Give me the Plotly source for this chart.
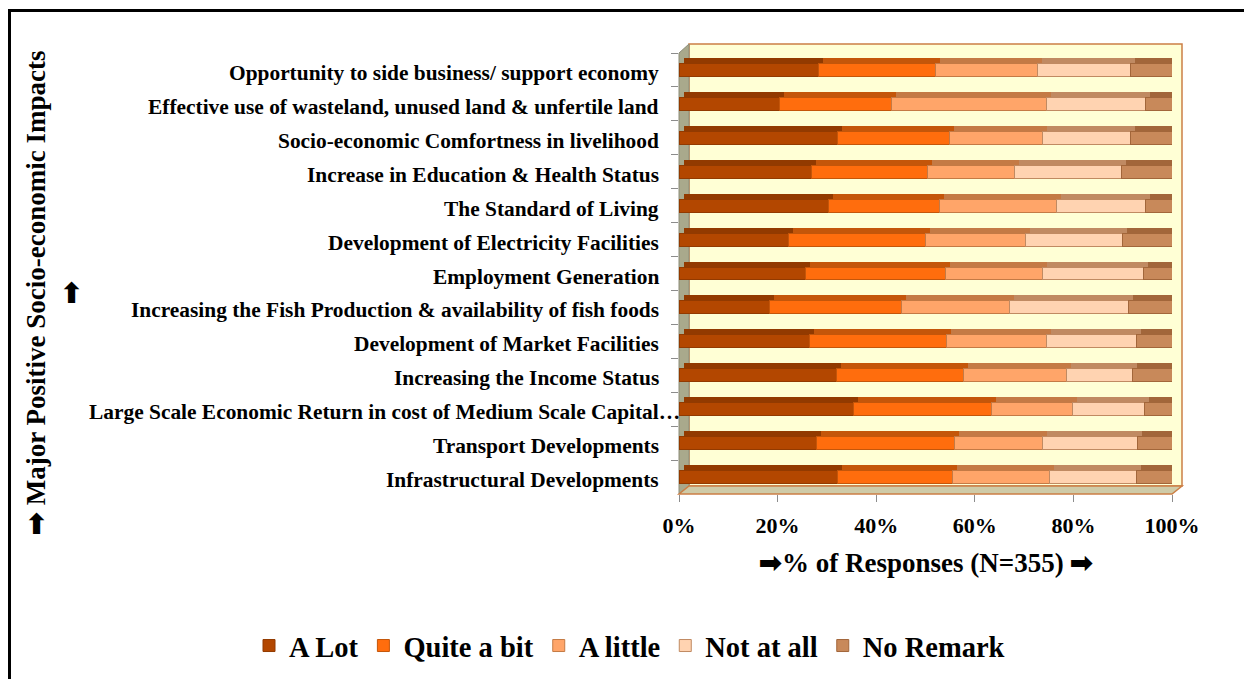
import plotly.graph_objects as go

# ---------------- data (top row first, as in the picture) ----------------
categories = [
    "Opportunity to side business/ support economy",
    "Effective use of wasteland, unused land & unfertile land",
    "Socio-economic Comfortness in livelihood",
    "Increase in Education & Health Status",
    "The Standard of Living",
    "Development of Electricity Facilities",
    "Employment Generation",
    "Increasing the Fish Production & availability of fish foods",
    "Development of Market Facilities",
    "Increasing the Income Status",
    "Large Scale Economic Return in cost of Medium Scale Capital\u2026",
    "Transport Developments",
    "Infrastructural Developments",
]
a_lot       = [28.3, 20.3, 32.2, 26.8, 30.4, 22.3, 25.6, 18.3, 26.4, 32.0, 35.4, 27.9, 32.2]
quite_a_bit = [23.8, 22.8, 22.6, 23.6, 22.4, 27.7, 28.5, 26.9, 27.9, 25.7, 28.0, 27.9, 23.2]
a_little    = [20.6, 31.5, 19.0, 17.6, 23.8, 20.2, 19.7, 21.8, 20.3, 20.9, 16.4, 18.0, 19.7]
not_at_all  = [18.8, 20.1, 17.7, 21.8, 18.1, 19.7, 20.4, 24.1, 18.1, 13.4, 14.6, 19.2, 17.7]
no_remark   = [8.5, 5.3, 8.5, 10.2, 5.3, 10.1, 5.8, 8.9, 7.3, 8.0, 5.6, 7.0, 7.2]
series_names = ["A Lot", "Quite a bit", "A little", "Not at all", "No Remark"]
x_tick_values = [0, 20, 40, 60, 80, 100]
x_tick_text = ["0%", "20%", "40%", "60%", "80%", "100%"]

# ---------------- styles ----------------
front_colors = ["#B34700", "#FF6D0D", "#FFA569", "#FFD3B1", "#C8895A"]
top_colors   = ["#923A00", "#C4560A", "#C47A45", "#C08A62", "#A2663A"]
FONT = "Liberation Serif"
ARROW = "\u27A1"

W, H = 1244, 679
L, R, T, B = 679, 72, 53, 185
PW = W - L - R
PH = H - T - B
n = len(categories)
ROW = PH / n
DEPTH = 5          # pixel depth of the 3-D bars
BAR_W = 0.38


def px(x):
    return (x - L) / PW


def py(y):
    return 1 - (y - T) / PH


series = [a_lot, quite_a_bit, a_little, not_at_all, no_remark]

fig = go.Figure()
# back (top / side) faces of the 3-D bars, drawn on axes shifted by DEPTH px
for vals, name, ct in zip(series, series_names, top_colors):
    fig.add_trace(go.Bar(
        y=categories, x=vals, orientation="h", name=name, width=BAR_W,
        marker=dict(color=ct, line=dict(color=ct, width=1)),
        xaxis="x", yaxis="y", showlegend=False, hoverinfo="skip"))
# front faces
for vals, name, cf, ct in zip(series, series_names, front_colors, top_colors):
    fig.add_trace(go.Bar(
        y=categories, x=vals, orientation="h", name=name, width=BAR_W,
        marker=dict(color=cf, line=dict(color=ct, width=1)),
        xaxis="x2", yaxis="y2"))

sx = DEPTH / PW * 100
sy = DEPTH / ROW

axis_common = dict(showgrid=False, zeroline=False, automargin=False)
fig.update_layout(
    width=W, height=H,
    margin=dict(l=L, r=R, t=T, b=B, pad=0, autoexpand=False),
    paper_bgcolor="white", plot_bgcolor="rgba(0,0,0,0)",
    barmode="stack",
    font=dict(family=FONT, color="black", weight="bold"),
    xaxis=dict(range=[-sx, 100 - sx], visible=False, **axis_common),
    yaxis=dict(type="category", categoryorder="array", categoryarray=categories,
               range=[n - 0.5 + sy, -0.5 + sy], visible=False, **axis_common),
    xaxis2=dict(overlaying="x", anchor="y2", side="bottom", range=[0, 100],
                tickmode="array", tickvals=x_tick_values, ticktext=x_tick_text,
                showline=False, ticks="outside", ticklen=7, tickcolor="#8C8C8C",
                tickfont=dict(size=22, family=FONT, weight="bold"),
                ticklabelstandoff=5, **axis_common),
    yaxis2=dict(overlaying="y", anchor="x2", side="left", type="category",
                categoryorder="array", categoryarray=categories,
                range=[n - 0.5, -0.5], showline=False, showticklabels=False,
                ticks="outside", tickson="boundaries", ticklen=7, tickcolor="#8C8C8C",
                **axis_common),
    legend=dict(orientation="h", x=px(249), xanchor="left", y=py(646), yanchor="middle",
                font=dict(size=28.5, family=FONT, weight="bold"), traceorder="normal",
                bgcolor="rgba(0,0,0,0)"),
    showlegend=True,
)

# category labels, placed on the front y scale
label_right_px = [661] * n
label_right_px[10] = 682   # the truncated label runs into the side wall in the original
for cat, xr in zip(categories, label_right_px):
    fig.add_annotation(
        text=cat, xref="paper", yref="y2", x=px(xr), y=cat,
        xanchor="right", yanchor="middle", showarrow=False, yshift=-3,
        font=dict(size=21.4, family=FONT, weight="bold"))

wall_line = dict(color="#CC7F45", width=1.5)
shapes = [
    # back wall
    dict(type="rect", xref="paper", yref="paper", layer="below",
         x0=px(L + 10), x1=px(L + PW + 10), y0=py(T + PH - 8), y1=py(T - 9),
         fillcolor="#FFFFD5", line=wall_line),
    # left side wall
    dict(type="path", xref="paper", yref="paper", layer="below",
         path=f"M {px(L)},{py(T)} L {px(L + 10)},{py(T - 9)} L {px(L + 10)},{py(T + PH - 8)} "
              f"L {px(L)},{py(T + PH)} Z",
         fillcolor="#A9A98C", line=dict(color="#8C8C78", width=1)),
    # floor
    dict(type="path", xref="paper", yref="paper", layer="below",
         path=f"M {px(L)},{py(T + PH)} L {px(L + 10)},{py(T + PH - 8)} "
              f"L {px(L + PW + 10)},{py(T + PH - 8)} L {px(L + PW)},{py(T + PH)} Z",
         fillcolor="#CFCBA8", line=wall_line),
    # outer black frame
    dict(type="rect", xref="paper", yref="paper", layer="above",
         x0=px(9.5), x1=px(W + 40), y0=py(10.5), y1=py(H + 40),
         fillcolor="rgba(0,0,0,0)", line=dict(color="black", width=3)),
]
fig.update_layout(shapes=shapes)

fig.add_annotation(
    text=f"{ARROW}% of Responses (N=355) {ARROW}", xref="paper", yref="paper",
    x=px(925.5), y=py(563), xanchor="center", yanchor="middle", showarrow=False,
    font=dict(size=27, family=FONT, weight="bold"))
fig.add_annotation(
    text=f"{ARROW} Major Positive Socio-economic Impacts<br>{ARROW}", xref="paper", yref="paper",
    x=px(53), y=py(293), xanchor="center", yanchor="middle", showarrow=False,
    textangle=-90, font=dict(size=27, family=FONT, weight="bold"))

fig.write_html("out.html")
